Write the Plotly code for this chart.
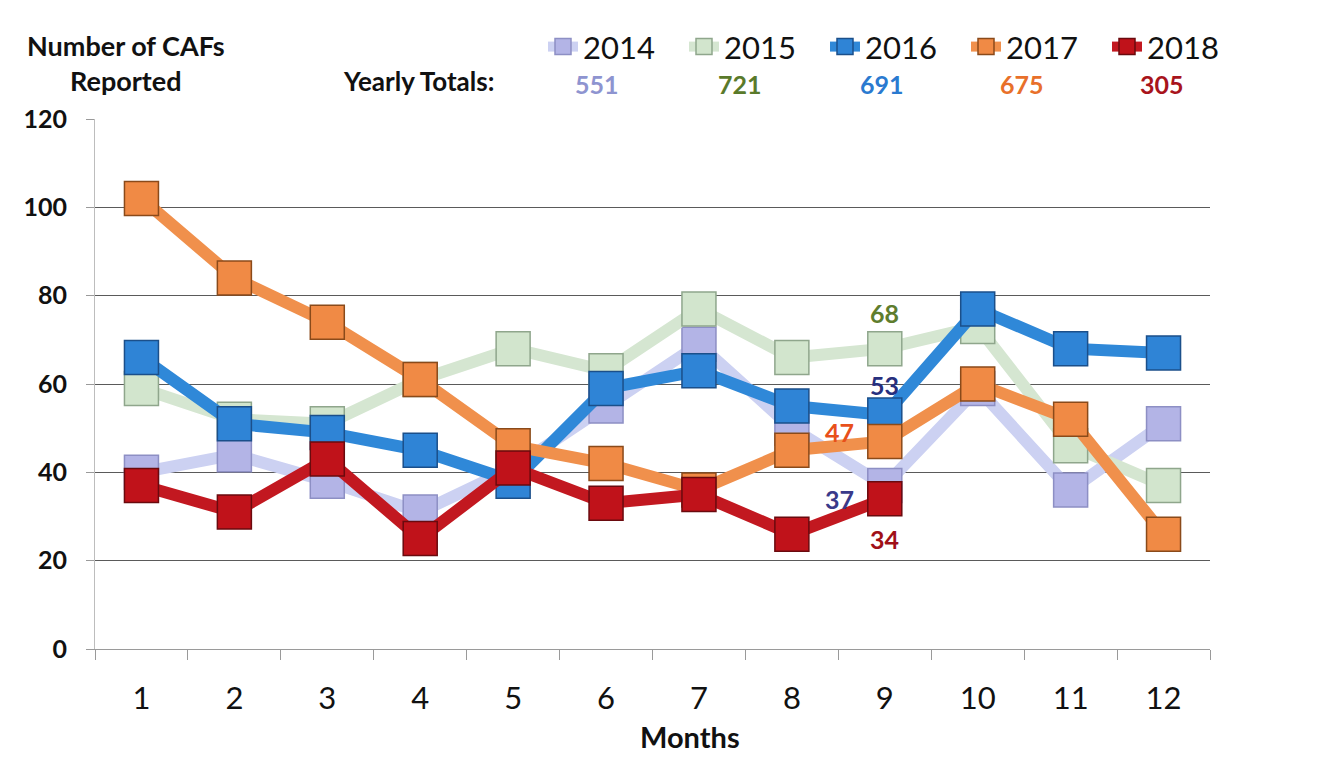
import plotly.graph_objects as go

months = list(range(1, 13))
years = ["2014", "2015", "2016", "2017", "2018"]
totals = [551, 721, 691, 675, 305]

v2014 = [40, 44, 38, 31, 41, 55, 69, 50, 37, 59, 36, 51]
v2015 = [59, 52, 51, 61, 68, 63, 77, 66, 68, 73, 46, 37]
v2016 = [66, 51, 49, 45, 38, 59, 63, 55, 53, 77, 68, 67]
v2017 = [102, 84, 74, 61, 46, 42, 36, 45, 47, 60, 52, 26]
v2018 = [37, 31, 43, 25, 41, 33, 35, 26, 34]

series = [v2014, v2015, v2016, v2017, v2018]
line_colors = ["#ccd1f2", "#d5e6d1", "#2f88d8", "#f0904c", "#c21820"]
fill_colors = ["#b3b4e6", "#d2e5cd", "#2f84d6", "#f08a45", "#c0121a"]
edge_colors = ["#8d8fc4", "#8fa68c", "#1b4f8a", "#8a4a1a", "#6a0a0e"]
total_colors = ["#8e94d0", "#5a7a2a", "#2a7ad0", "#e8702a", "#a8141c"]

FONT = "Lato"

fig = go.Figure()
for name, vals, lc, fc, ec in zip(years, series, line_colors, fill_colors, edge_colors):
    fig.add_trace(go.Scatter(
        x=months[:len(vals)], y=vals, name=name, mode="lines+markers",
        line=dict(color=lc, width=12),
        marker=dict(symbol="square", size=34, color=fc, line=dict(color=ec, width=1.5)),
    ))

OFF = 8  # page body margin
W, H = 1338 - OFF, 761 - OFF
L, R, T, B = 95 - OFF, 128, 114 - OFF, 112
pw = W - L - R
ph = H - T - B

def px_x(p):
    return (p - OFF - L) / pw

def px_y(p):
    return 1 + (T - (p - OFF)) / ph

def paper_ann(text, x, y, size, color="#111", xanchor="center", yanchor="middle", align="center"):
    return dict(text=text, x=px_x(x), y=px_y(y), xref="paper", yref="paper", showarrow=False,
                xanchor=xanchor, yanchor=yanchor, align=align,
                font=dict(family=FONT, size=size, color=color))

ann = []
ann.append(paper_ann("<b>Number of CAFs</b><br><b>Reported</b>", 126, 57, 27))
ann.append(paper_ann("<b>Yearly Totals:</b>", 496, 76, 26, xanchor="right"))
tot_x = [597, 740, 882, 1022, 1162]
for t, c, xx in zip(totals, total_colors, tot_x):
    ann.append(paper_ann(f"<b>{t}</b>", xx, 79, 25, color=c))
ann.append(paper_ann("<b>Months</b>", 690, 737, 29))

# data labels at month 9
lab = [
    (v2015[8], "#5e7d2e", 0, 36),
    (v2016[8], "#27307e", 0, 30),
    (v2017[8], "#e8501a", -45, 9),
    (v2014[8], "#3a3a8a", -45, -13),
    (v2018[8], "#a01018", 0, -40),
]
for val, col, dx, dy in lab:
    ann.append(dict(text=f"<b>{val}</b>", x=9, y=val, xref="x", yref="y", showarrow=False,
                    xshift=dx, yshift=dy, font=dict(family=FONT, size=25, color=col)))

fig.update_layout(
    width=W, height=H,
    margin=dict(l=L, r=R, t=T, b=B),
    paper_bgcolor="white", plot_bgcolor="white",
    showlegend=True,
    legend=dict(orientation="h", x=px_x(543), y=px_y(14), xanchor="left", yanchor="top",
                font=dict(family=FONT, size=31, color="#111"), itemwidth=30,
                bgcolor="rgba(0,0,0,0)", tracegroupgap=0, entrywidth=96, entrywidthmode="pixels"),
    annotations=ann,
    font=dict(family=FONT),
)
fig.update_xaxes(
    range=[0.5, 12.5], tickmode="array", tickvals=months, ticktext=[str(m) for m in months],
    showgrid=False, zeroline=False, showline=True, linecolor="#9a9a9a", linewidth=1,
    ticks="", ticklabelstandoff=22,
    tickfont=dict(family=FONT, size=31, color="#111"),
    minor=dict(tickvals=[m + 0.5 for m in range(0, 13)], ticks="outside", ticklen=10,
               tickcolor="#9a9a9a", showgrid=False),
)
fig.update_yaxes(
    range=[0, 120], tickvals=[0, 20, 40, 60, 80, 100, 120],
    ticktext=[f"<b>{v}</b>" for v in [0, 20, 40, 60, 80, 100, 120]],
    showgrid=True, gridcolor="#5a5a5a", gridwidth=1, zeroline=False,
    showline=True, linecolor="#bdbdbd", linewidth=1,
    ticks="outside", ticklen=8, tickcolor="#9a9a9a", ticklabelstandoff=14,
    tickfont=dict(family=FONT, size=25, color="#111"),
)

fig.write_html("out.html")
